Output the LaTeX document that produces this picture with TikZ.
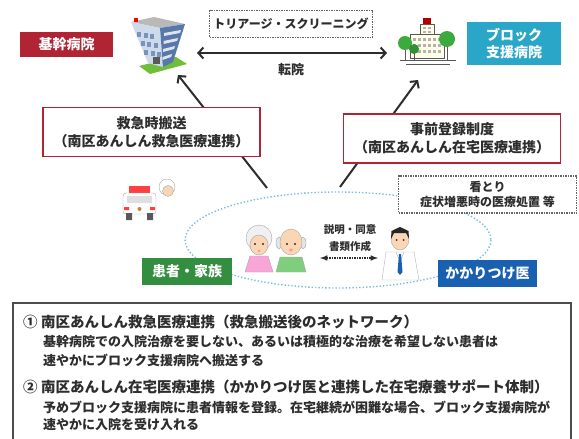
\documentclass[tikz,border=0pt]{standalone}
\usepackage{fontspec}
\usetikzlibrary{arrows.meta}
\setmainfont{Noto Sans CJK JP}

\definecolor{kikanred}{RGB}{176,36,52}
\definecolor{blockteal}{RGB}{42,166,200}
\definecolor{kanjagreen}{RGB}{52,142,64}
\definecolor{ishiblue}{RGB}{26,96,176}
\definecolor{ellblue}{RGB}{120,192,222}
\definecolor{inkgray}{RGB}{45,45,45}
\definecolor{skin}{RGB}{250,214,180}
\definecolor{grass}{RGB}{110,190,60}
\definecolor{treegreen}{RGB}{60,170,60}
\definecolor{bldlight}{RGB}{205,218,236}
\definecolor{bldblue}{RGB}{88,120,170}

\begin{document}
\begin{tikzpicture}[x=1pt,y=-1pt, >={Straight Barb[length=5pt,width=11pt]},
	fillbox/.style={text=white, inner sep=0pt, align=center, font={\fontsize{14}{17}\selectfont\bfseries}},
	redframe/.style={draw=kikanred, line width=1.6pt, fill=white, text=inkgray, align=center, inner sep=0pt, minimum width=217pt, minimum height=49pt, font={\fontsize{14}{18}\selectfont\bfseries}},
	dotframe/.style={draw=gray!80!black, densely dotted, line width=1.5pt, fill=white, text=inkgray, align=center, inner sep=0pt, font={\fontsize{12}{15}\selectfont\bfseries}},
	headtext/.style={anchor=west, inner sep=0pt, text=inkgray, font={\fontsize{14.5}{17}\selectfont\bfseries}},
	bodytext/.style={anchor=west, inner sep=0pt, text=inkgray, font={\fontsize{13}{15}\selectfont\bfseries}}]
	\useasboundingbox (0,0) rectangle (579,439);
	
	% main hospital
	\fill[grass] (139,66) -- (176,57) -- (187,64) -- (150,74) -- cycle;
	\fill[gray!55] (131,22) -- (154,17) -- (185,24) -- (160,28) -- cycle;
	\fill[bldlight] (131,22) -- (160,28) -- (163,67) -- (148,63) -- cycle;
	\fill[bldblue] (160,28) -- (185,24) -- (173,62) -- (163,67) -- cycle;
	\foreach \i in {0,1,2}
	\foreach \j in {0,1,2}
	\fill[bldblue!80] ({137+3.5*\i+6.5*\j},{32+9*\i+1.2*\j}) rectangle ++(4,5);
	\foreach \i in {0,1,2,3}
	\fill[white!80!bldblue] ({164-0.5*\i},{33+8*\i}) -- ({181-3*\i},{30+8*\i}) -- ({180-3*\i},{33+8*\i}) -- ({164-0.5*\i},{36+8*\i}) -- cycle;
	\fill[gray!70!black] (153,57) rectangle (160,64);
	\fill[red] (134,18) rectangle (138,22);
	
	% block hospital
	\draw[gray!70!black, line width=1pt] (400,60) -- (456,60);
	\draw[gray!70!black, line width=0.8pt] (406,64) -- (450,64);
	\filldraw[draw=gray!70!black, fill=yellow!10] (410,34) rectangle (444,58);
	\filldraw[draw=gray!70!black, fill=yellow!10] (420,24) rectangle (434,34);
	\fill[red!70!black] (423,18) rectangle (431,24);
	\foreach \i in {0,...,5}
	\foreach \j in {0,1,2}
	\fill[gray!60] ({413+5*\i},{38+6*\j}) rectangle ++(3,3);
	\foreach \i in {0,1}
	\foreach \j in {0,1}
	\fill[gray!60] ({423+5*\i},{27+3.5*\j}) rectangle ++(3,2);
	\draw[gray!70!black] (405,48) -- (405,60) (414,52) -- (414,60) (447,46) -- (447,60);
	\fill[treegreen] (405,43) circle (7);
	\fill[treegreen!85!black] (414,49) circle (5);
	\fill[treegreen] (447,39) circle (8);
	
	% ambulance
	\fill[red!75] (129,186) rectangle (150,193);
	\filldraw[draw=gray!70, fill=white, rounded corners=3pt] (123,193) rectangle (156,214);
	\fill[gray!25] (127,196) rectangle (152,203);
	\fill[red!75] (124,207) rectangle (129,210) (150,207) rectangle (155,210);
	\fill[gray!40!orange] (139.5,209) circle (2);
	\fill[gray!70!black] (126,213) rectangle (132,220) (147,213) rectangle (153,220);
	\filldraw[draw=gray!70, fill=white] (167,187) circle (8);
	\filldraw[draw=gray!70, fill=skin] (168,191) circle (5.5);
	
	% patient and family
	\filldraw[draw=gray!70, fill=magenta!35] (250,256) -- (268,256) -- (273,272) -- (245,272) -- cycle;
	\filldraw[draw=gray!70, fill=gray!12] (259,238) circle (13);
	\filldraw[draw=gray!70, fill=skin] (259,245) ellipse [x radius=9, y radius=10];
	\filldraw[draw=gray!70, fill=green!45!gray!70] (280,257) -- (302,257) -- (306,272) -- (276,272) -- cycle;
	\filldraw[draw=gray!70, fill=gray!20] (279,243) ellipse [x radius=3, y radius=6];
	\filldraw[draw=gray!70, fill=gray!20] (303,243) ellipse [x radius=3, y radius=6];
	\filldraw[draw=gray!70, fill=skin] (291,242) ellipse [x radius=11, y radius=13];
	\foreach \x in {255,263,287,295}
	\fill[inkgray] (\x,244) circle (1.1);
	\fill[red!40] (259,251) circle (1.5) (291,250) circle (1.8);
	
	% family doctor
	\filldraw[draw=gray!60, fill=white] (386,252) -- (414,252) -- (419,280) -- (382,280) -- cycle;
	\draw[gray!60] (396,252) -- (400,262) -- (404,252);
	\fill[ishiblue] (399,254) -- (401,254) -- (402.5,272) -- (400,275) -- (397.5,272) -- cycle;
	\filldraw[draw=gray!70, fill=skin] (400,239) ellipse [x radius=9, y radius=11];
	\fill[gray!30!black] (391,239) -- (391.5,231) -- (400,227) -- (408.5,231) -- (409,239) -- (406,233) -- (394,233) -- cycle;
	\fill[inkgray] (396.5,240) circle (1) (403.5,240) circle (1);
	
	% connectors
	\coordinate (kikanR) at (197,53);
	\coordinate (blockL) at (387,53);
	\coordinate (kikanB) at (178,75);
	\coordinate (blockB) at (418,80);
	\coordinate (kyuE) at (267,188);
	\coordinate (zaiE) at (340,187);
	\draw[<->, line width=2pt, inkgray] (kikanR) -- (blockL);
	\draw[->, line width=2pt, inkgray] (kyuE) -- (kikanB);
	\draw[->, line width=2pt, inkgray] (zaiE) -- (blockB);
	\draw[ellblue, dotted, line width=1.4pt] (338,240) ellipse [x radius=153, y radius=48];
	
	% labels
	\node[fillbox, fill=kikanred, minimum width=93pt, minimum height=25pt] (kikan) at (66.5,44.5) {基幹病院};
	\node[fillbox, fill=blockteal, minimum width=94pt, minimum height=43pt] (block) at (514,43.5) {ブロック\\支援病院};
	\node[dotframe, minimum width=163pt, minimum height=27pt] (triage) at (291,24) {トリアージ・スクリーニング};
	\node[text=inkgray, inner sep=0pt, font={\fontsize{13}{15}\selectfont\bfseries}] (tenin) at (291,70) {転院};
	\node[redframe] (kyukyu) at (151.5,132) {救急時搬送\\（南区あんしん救急医療連携）};
	\node[redframe] (zaitaku) at (452,138.5) {事前登録制度\\（南区あんしん在宅医療連携）};
	\node[dotframe, minimum width=178pt, minimum height=37pt] (mitori) at (487.5,194.5) {看とり\\症状増悪時の医療処置\ 等};
	\node[fillbox, fill=kanjagreen, minimum width=90pt, minimum height=27pt] (kanja) at (187,271.5) {患者・家族};
	\node[fillbox, fill=ishiblue, minimum width=99pt, minimum height=27pt] (ishi) at (487.5,273.5) {かかりつけ医};
	\node[text=inkgray, align=center, inner sep=0pt, font={\fontsize{10.5}{17}\selectfont\bfseries}] (setsumei) at (350,238.5) {説明・同意\\書類作成};
	\coordinate (famR) at (320,258);
	\coordinate (docL) at (378,258);
	\draw[latex-latex, densely dotted, line width=1.5pt, inkgray] (famR) -- (docL);
	
	% summary panel
	\draw[line width=1.2pt, black!70] (13,441) |- (571,303) -- (571,441);
	\node[headtext] (h1) at (23,322) {① 南区あんしん救急医療連携（救急搬送後のネットワーク）};
	\node[headtext] (h2) at (23,387) {② 南区あんしん在宅医療連携（かかりつけ医と連携した在宅療養サポート体制）};
	\foreach \n/\y/\txt in {b1/342/{基幹病院での入院治療を要しない、あるいは積極的な治療を希望しない患者は},
		b2/360/{速やかにブロック支援病院へ搬送する},
		b3/407/{予めブロック支援病院に患者情報を登録。在宅継続が困難な場合、ブロック支援病院が},
		b4/425/{速やかに入院を受け入れる}}
	\node[bodytext] (\n) at (43,\y) {\txt};
\end{tikzpicture}
\end{document}
